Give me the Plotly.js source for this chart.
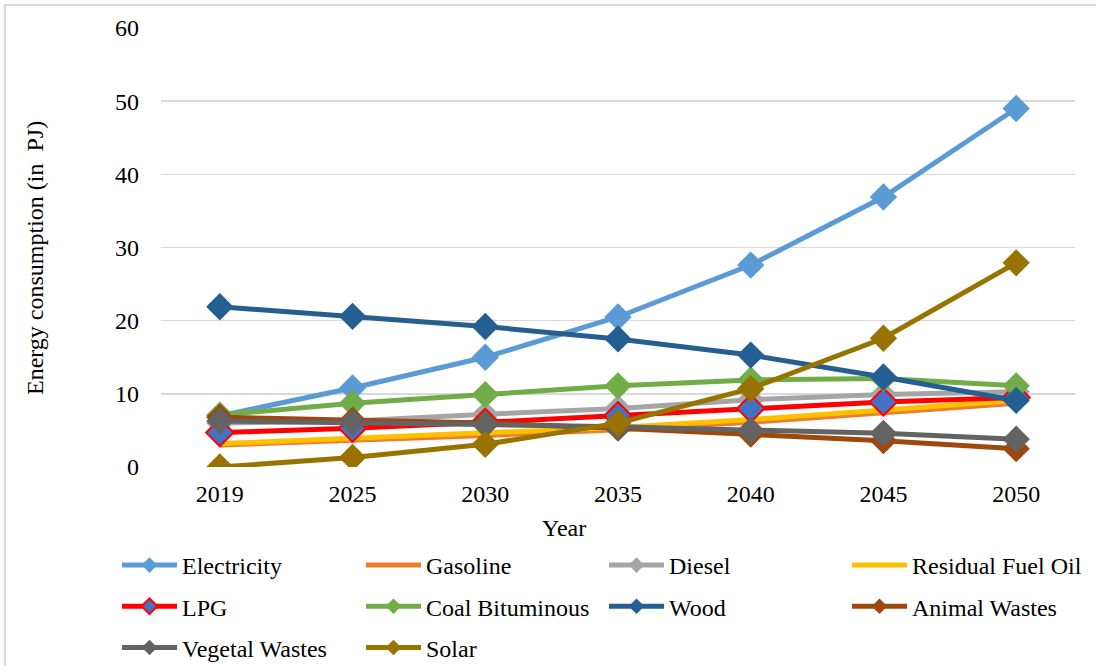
<!DOCTYPE html>
<html>
<head>
<meta charset="utf-8">
<script src="https://cdn.plot.ly/plotly-3.0.1.min.js"></script>
<style>html,body{margin:0;padding:0;background:#fff;}#chart{width:1096px;height:666px;}</style>
</head>
<body>
<div id="chart"></div>
<script>
const years = ['2019','2025','2030','2035','2040','2045','2050'];
const electricity = [7.0, 10.8, 15.0, 20.5, 27.6, 36.9, 49.0];
const gasoline    = [3.0, 3.6, 4.3, 5.1, 6.1, 7.4, 8.7];
const diesel      = [6.0, 6.3, 7.2, 8.0, 9.2, 9.9, 10.3];
const residual    = [3.2, 3.9, 4.6, 5.4, 6.5, 7.8, 9.1];
const lpg         = [4.7, 5.3, 6.1, 7.0, 8.0, 8.9, 9.5];
const coal        = [7.1, 8.7, 9.9, 11.1, 11.9, 12.1, 11.1];
const wood        = [21.9, 20.6, 19.2, 17.5, 15.3, 12.3, 9.1];
const animal      = [6.8, 6.4, 6.0, 5.3, 4.5, 3.6, 2.5];
const vegetal     = [6.3, 6.1, 5.8, 5.5, 5.0, 4.6, 3.8];
const solar       = [0.0, 1.3, 3.1, 6.0, 10.7, 17.6, 27.9];

const FONT = 'Liberation Serif, Times New Roman, serif';
const FS = 24;
const MS = 21, LW = 5;

function tr(name, y, color, opts) {
  opts = opts || {};
  const t = {
    x: years, y: y, name: name, type: 'scatter',
    mode: opts.noMarker ? 'lines' : 'lines+markers',
    line: {color: color, width: LW},
    legend: opts.legend, legendgroup: name,
    hoverinfo: 'x+y+name'
  };
  if (!opts.noMarker) {
    t.marker = {symbol: 'diamond', size: MS, color: opts.mcolor || color,
                line: {color: opts.mline || color, width: opts.mline ? 2 : 0}};
  }
  return t;
}

const data = [
  tr('Electricity', electricity, '#5B9BD5', {legend: 'legend'}),
  tr('Gasoline', gasoline, '#ED7D31', {legend: 'legend2', noMarker: true}),
  tr('Diesel', diesel, '#A5A5A5', {legend: 'legend3'}),
  tr('Residual Fuel Oil', residual, '#FFC000', {legend: 'legend4', noMarker: true}),
  tr('LPG', lpg, '#FF0000', {legend: 'legend', mcolor: '#4472C4', mline: '#FF0000'}),
  tr('Coal Bituminous', coal, '#70AD47', {legend: 'legend2'}),
  tr('Wood', wood, '#255E91', {legend: 'legend3'}),
  tr('Animal Wastes', animal, '#9E480E', {legend: 'legend4'}),
  tr('Vegetal Wastes', vegetal, '#636363', {legend: 'legend'}),
  tr('Solar', solar, '#997300', {legend: 'legend2'})
];

const W = 1096, H = 666;
function legendAt(xpx) {
  return {
    orientation: 'v', xref: 'container', yref: 'container',
    x: xpx / W, xanchor: 'left', y: 1 - 543 / H, yanchor: 'top',
    bgcolor: 'rgba(0,0,0,0)', borderwidth: 0,
    font: {family: FONT, size: FS, color: '#000'},
    itemwidth: 55, itemsizing: 'constant', tracegroupgap: 7, traceorder: 'grouped',
    itemclick: false, itemdoubleclick: false
  };
}

const layout = {
  width: W, height: H,
  paper_bgcolor: '#fff', plot_bgcolor: '#fff',
  margin: {l: 161, r: 21, t: 28, b: 199, autoexpand: false},
  font: {family: FONT, size: FS, color: '#000'},
  showlegend: true,
  legend: legendAt(117),
  legend2: legendAt(361),
  legend3: legendAt(604),
  legend4: legendAt(847),
  xaxis: {
    type: 'category', showgrid: false, zeroline: false, showline: false,
    ticks: '', ticklabelstandoff: 10, automargin: false,
    tickfont: {family: FONT, size: FS, color: '#000'}, fixedrange: true
  },
  yaxis: {
    range: [0, 60], dtick: 10, tick0: 0, showgrid: true, gridcolor: '#D9D9D9', gridwidth: 1.5,
    zeroline: false, showline: false, ticks: '', ticklabelstandoff: 21, automargin: false,
    tickfont: {family: FONT, size: FS, color: '#000'},
    fixedrange: true
  },
  annotations: [{
    text: 'Year', xref: 'paper', yref: 'paper',
    x: (564 - 161) / (1075 - 161), y: -(528 - 467) / (467 - 28),
    xanchor: 'center', yanchor: 'middle', showarrow: false,
    font: {family: FONT, size: FS, color: '#000'}
  }, {
    text: 'Energy consumption (in\u00a0 PJ)', xref: 'paper', yref: 'paper',
    x: (35 - 161) / (1075 - 161), y: (467 - 258) / (467 - 28),
    xanchor: 'center', yanchor: 'middle', showarrow: false, textangle: -90,
    font: {family: FONT, size: FS, color: '#000'}
  }],
  shapes: [{
    type: 'rect', xref: 'paper', yref: 'paper',
    x0: (5 - 161) / (1075 - 161), x1: (1100 - 161) / (1075 - 161),
    y0: (467 - 670) / (467 - 28), y1: (467 - 5) / (467 - 28),
    line: {color: '#D9D9D9', width: 2}, fillcolor: 'rgba(0,0,0,0)', layer: 'below'
  }]
};

Plotly.newPlot('chart', data, layout, {displayModeBar: false, staticPlot: true});
</script>
</body>
</html>
